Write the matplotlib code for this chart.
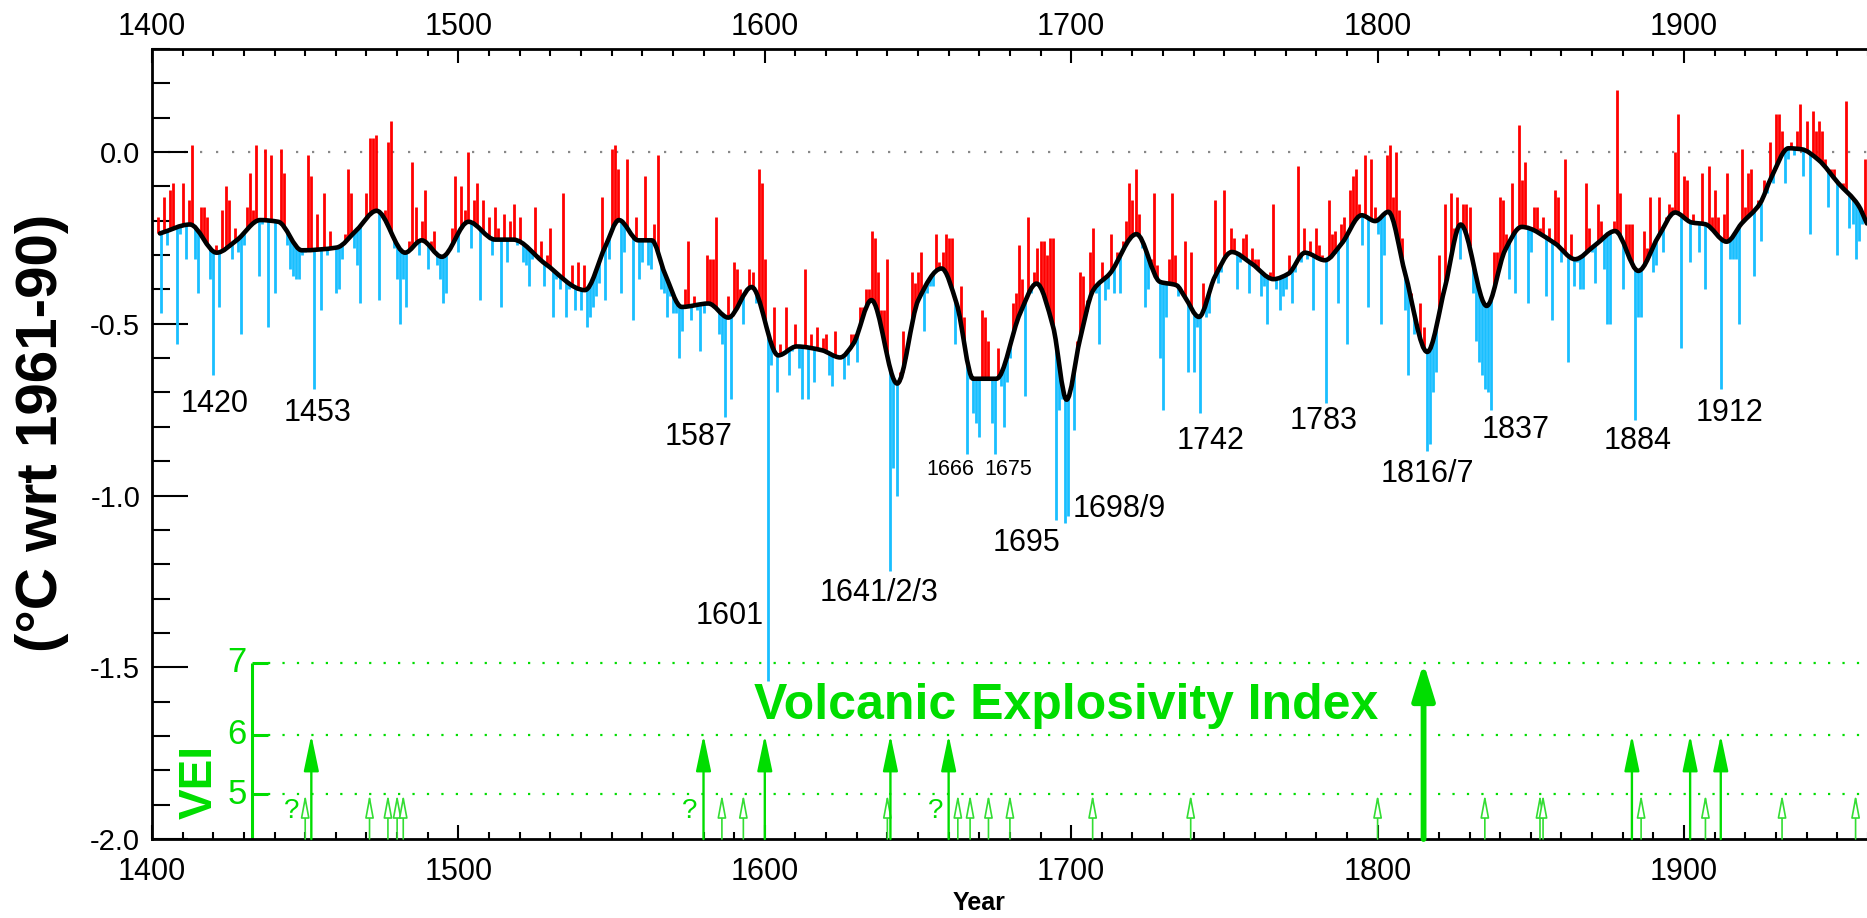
import numpy as np
import matplotlib.pyplot as plt
from matplotlib.ticker import MultipleLocator, FixedLocator
from matplotlib.path import Path
from matplotlib.patches import PathPatch

plt.rcParams['font.family'] = ['Liberation Sans', 'DejaVu Sans']

# annual anomalies (degC wrt 1961-90), one list per century, first year 1402
first_year = 1402
anom_1400s = [-0.19, -0.47, -0.13, -0.27, -0.11, -0.09, -0.56, -0.24,
              -0.09, -0.31, -0.14, 0.02, -0.31, -0.41, -0.16, -0.16, -0.19, -0.37,
              -0.65, -0.27, -0.45, -0.17, -0.10, -0.14, -0.31, -0.22, -0.29, -0.53,
              -0.27, -0.16, -0.06, -0.17, 0.02, -0.36, -0.21, 0.01, -0.51, -0.01,
              -0.41, -0.20, 0.01, -0.06, -0.27, -0.34, -0.36, -0.37, -0.37, -0.30,
              -0.29, -0.01, -0.07, -0.69, -0.18, -0.46, -0.12, -0.30, -0.23, -0.28,
              -0.41, -0.40, -0.31, -0.24, -0.05, -0.12, -0.28, -0.33, -0.44, -0.20,
              -0.12, 0.04, 0.04, 0.05, -0.43, -0.19, -0.17, 0.03, 0.09, -0.28,
              -0.37, -0.50, -0.37, -0.45, -0.26, -0.03, -0.16, -0.30, -0.20, -0.11,
              -0.34, -0.26, -0.23, -0.33, -0.37, -0.44, -0.41, -0.28, -0.22, -0.07]
anom_1500s = [-0.29, -0.10, -0.17, 0.00, -0.28, -0.14, -0.09, -0.43, -0.14, -0.24,
              -0.19, -0.30, -0.16, -0.22, -0.45, -0.18, -0.32, -0.20, -0.15, -0.27,
              -0.19, -0.32, -0.33, -0.39, -0.31, -0.16, -0.30, -0.26, -0.39, -0.30,
              -0.22, -0.48, -0.37, -0.40, -0.12, -0.48, -0.40, -0.33, -0.46, -0.32,
              -0.46, -0.33, -0.51, -0.48, -0.45, -0.42, -0.38, -0.13, -0.43, -0.31,
              0.01, 0.02, -0.05, -0.41, -0.29, -0.02, -0.24, -0.49, -0.19, -0.37,
              -0.32, -0.07, -0.33, -0.34, -0.21, -0.01, -0.40, -0.41, -0.48, -0.42,
              -0.47, -0.47, -0.60, -0.52, -0.40, -0.26, -0.49, -0.42, -0.46, -0.58,
              -0.47, -0.30, -0.31, -0.31, -0.19, -0.53, -0.56, -0.77, -0.42, -0.72,
              -0.32, -0.34, -0.40, -0.50, -0.40, -0.34, -0.35, -0.44, -0.05, -0.09]
anom_1600s = [-0.31, -1.54, -0.62, -0.45, -0.70, -0.56, -0.59, -0.45, -0.65, -0.58,
              -0.50, -0.63, -0.72, -0.34, -0.72, -0.53, -0.67, -0.51, -0.57, -0.54,
              -0.53, -0.65, -0.68, -0.52, -0.60, -0.59, -0.66, -0.62, -0.53, -0.53,
              -0.61, -0.45, -0.45, -0.40, -0.40, -0.23, -0.25, -0.35, -0.46, -0.46,
              -0.31, -1.22, -0.92, -1.00, -0.64, -0.52, -0.58, -0.55, -0.35, -0.38,
              -0.35, -0.29, -0.52, -0.41, -0.39, -0.39, -0.24, -0.32, -0.29, -0.24,
              -0.25, -0.25, -0.56, -0.47, -0.39, -0.48, -0.88, -0.66, -0.76, -0.79,
              -0.83, -0.46, -0.48, -0.55, -0.79, -0.88, -0.57, -0.68, -0.80, -0.67,
              -0.60, -0.44, -0.41, -0.27, -0.37, -0.71, -0.19, -0.41, -0.35, -0.28,
              -0.26, -0.26, -0.30, -0.25, -0.25, -1.07, -0.75, -0.72, -1.08, -1.06]
anom_1700s = [-0.69, -0.81, -0.55, -0.35, -0.36, -0.43, -0.29, -0.22, -0.41, -0.56,
              -0.32, -0.43, -0.40, -0.24, -0.41, -0.29, -0.41, -0.26, -0.20, -0.09,
              -0.14, -0.05, -0.18, -0.28, -0.45, -0.40, -0.31, -0.12, -0.33, -0.60,
              -0.75, -0.48, -0.31, -0.12, -0.30, -0.42, -0.41, -0.26, -0.64, -0.29,
              -0.64, -0.51, -0.76, -0.38, -0.48, -0.47, -0.37, -0.14, -0.38, -0.35,
              -0.11, -0.29, -0.22, -0.25, -0.40, -0.32, -0.25, -0.24, -0.41, -0.28,
              -0.31, -0.31, -0.42, -0.39, -0.50, -0.35, -0.15, -0.40, -0.46, -0.42,
              -0.40, -0.30, -0.44, -0.35, -0.04, -0.32, -0.22, -0.31, -0.26, -0.46,
              -0.22, -0.27, -0.30, -0.73, -0.14, -0.24, -0.23, -0.44, -0.21, -0.19,
              -0.56, -0.11, -0.07, -0.05, -0.15, -0.27, -0.01, -0.45, -0.02, -0.16]
anom_1800s = [-0.24, -0.50, -0.30, -0.01, 0.02, -0.13, 0.00, -0.17, -0.25, -0.46,
              -0.65, -0.41, -0.53, -0.50, -0.44, -0.51, -0.87, -0.85, -0.70, -0.64,
              -0.30, -0.41, -0.15, -0.35, -0.12, -0.22, -0.13, -0.31, -0.15, -0.15,
              -0.16, -0.41, -0.55, -0.61, -0.65, -0.69, -0.70, -0.75, -0.29, -0.29,
              -0.13, -0.14, -0.24, -0.37, -0.09, -0.41, 0.08, -0.08, -0.03, -0.44,
              -0.29, -0.16, -0.16, -0.22, -0.19, -0.42, -0.22, -0.49, -0.11, -0.13,
              -0.32, -0.02, -0.61, -0.24, -0.39, -0.32, -0.40, -0.40, -0.09, -0.22,
              -0.29, -0.38, -0.15, -0.20, -0.34, -0.50, -0.50, -0.20, 0.18, -0.12,
              -0.40, -0.21, -0.21, -0.21, -0.78, -0.48, -0.48, -0.23, -0.28, -0.13,
              -0.35, -0.33, -0.13, -0.29, -0.19, -0.15, -0.16, 0.00, 0.11, -0.57]
anom_1900s = [-0.07, -0.08, -0.32, -0.18, -0.21, -0.29, -0.06, -0.40, -0.04, -0.19,
              -0.11, -0.19, -0.69, -0.18, -0.06, -0.31, -0.31, -0.31, -0.50, 0.01,
              -0.16, -0.06, -0.05, -0.36, -0.14, -0.26, -0.08, -0.12, 0.03, -0.09,
              0.11, 0.11, 0.06, -0.09, -0.02, 0.03, -0.01, 0.06, 0.14, -0.07,
              0.09, -0.24, 0.12, 0.06, 0.09, 0.06, -0.02, -0.16, -0.05, -0.05,
              -0.30, -0.10, -0.09, 0.15, -0.22, -0.21, -0.31, -0.26, -0.21, -0.02]

# smoothed curve, read at its turning points
curve_years = [1402.6, 1412.4, 1421.1, 1427.6, 1435.3, 1441.2, 1448.9, 1460.3, 1466.8,
               1473.3, 1482.6, 1488.0, 1494.6, 1503.3, 1512.0, 1517.9, 1528.3, 1541.3,
               1547.9, 1552.4, 1558.7, 1563.1, 1567.4, 1572.9, 1581.6, 1588.1, 1595.7,
               1604.4, 1610.4, 1618.6, 1624.6, 1628.9, 1634.8, 1643.2, 1650.1, 1657.7,
               1662.6, 1668.0, 1675.6, 1683.3, 1688.7, 1694.1, 1698.5, 1702.8, 1707.2,
               1712.6, 1721.3, 1729.0, 1734.4, 1737.1, 1741.7, 1746.9, 1752.4, 1758.9,
               1766.0, 1770.9, 1776.3, 1782.8, 1788.3, 1794.8, 1799.2, 1803.5, 1809.0,
               1816.2, 1822.0, 1827.1, 1835.6, 1841.6, 1847.0, 1857.9, 1864.4, 1871.0,
               1877.5, 1885.1, 1891.6, 1897.1, 1902.5, 1906.9, 1913.9, 1918.8, 1924.8,
               1928.6, 1934.1, 1938.4, 1943.9, 1950.4, 1956.9, 1959.7]
curve_vals = [-0.237, -0.211, -0.293, -0.257, -0.198, -0.203, -0.286, -0.278, -0.227,
              -0.171, -0.293, -0.257, -0.305, -0.203, -0.255, -0.255, -0.325, -0.402,
              -0.276, -0.198, -0.257, -0.257, -0.354, -0.451, -0.441, -0.482, -0.393,
              -0.592, -0.566, -0.577, -0.598, -0.558, -0.431, -0.674, -0.431, -0.339,
              -0.441, -0.660, -0.660, -0.470, -0.383, -0.509, -0.721, -0.548, -0.402,
              -0.354, -0.239, -0.378, -0.388, -0.422, -0.480, -0.363, -0.291, -0.325,
              -0.370, -0.354, -0.293, -0.315, -0.266, -0.184, -0.201, -0.174, -0.354,
              -0.582, -0.393, -0.211, -0.448, -0.286, -0.218, -0.266, -0.312, -0.271,
              -0.230, -0.346, -0.247, -0.176, -0.205, -0.210, -0.261, -0.208, -0.150,
              -0.072, 0.011, 0.008, -0.023, -0.091, -0.155, -0.208]

# volcanic eruptions by VEI
vei7_years = [1815]
vei6_years = [1452, 1580, 1600, 1641, 1660, 1883, 1902, 1912]
vei5_years = [1450, 1471, 1477, 1480, 1482, 1586, 1593, 1640, 1663, 1667, 1673,
              1680, 1707, 1739, 1800, 1835, 1853, 1854, 1886, 1907, 1932, 1956]
uncertain_years = [1450, 1580, 1660]

event_labels = ['1420', '1453', '1587', '1601', '1641/2/3', '1666', '1675', '1695',
                '1698/9', '1742', '1783', '1816/7', '1837', '1884', '1912']

# ---- layout
label_pos = [(1420.6, -0.735), (1453.9, -0.759), (1578.5, -0.829), (1588.6, -1.352),
             (1637.2, -1.283), (1660.5, -0.923), (1679.4, -0.923), (1685.3, -1.137),
             (1715.6, -1.040), (1745.6, -0.840), (1782.5, -0.784), (1816.1, -0.936),
             (1845.2, -0.808), (1885.0, -0.840), (1915.0, -0.761)]
small_labels = {'1666', '1675'}
vei_y = {5: -1.869, 6: -1.697, 7: -1.487}   # where the VEI scale sits on the y axis
vei_x = 1432.6
green = '#00dd00'
red = '#ff0000'
blue = '#19bfff'


def hermite_slopes(x, y):
    # monotone (PCHIP-style) tangents so the smooth curve keeps its read extremes
    h = np.diff(x)
    d = np.diff(y) / h
    m = np.zeros_like(y)
    m[0], m[-1] = d[0], d[-1]
    for k in range(1, len(y) - 1):
        if d[k - 1] * d[k] > 0:
            w1 = 2 * h[k] + h[k - 1]
            w2 = h[k] + 2 * h[k - 1]
            m[k] = (w1 + w2) / (w1 / d[k - 1] + w2 / d[k])
    return m


cx = np.array(curve_years)
cy = np.array(curve_vals)
cm = hermite_slopes(cx, cy)

# the curve as cubic Bezier segments through the read points
verts = [(cx[0], cy[0])]
codes = [Path.MOVETO]
for k in range(len(cx) - 1):
    h = cx[k + 1] - cx[k]
    verts += [(cx[k] + h / 3, cy[k] + cm[k] * h / 3),
              (cx[k + 1] - h / 3, cy[k + 1] - cm[k + 1] * h / 3),
              (cx[k + 1], cy[k + 1])]
    codes += [Path.CURVE4] * 3

anom = np.array(anom_1400s + anom_1500s + anom_1600s + anom_1700s + anom_1800s + anom_1900s)
years = np.arange(first_year, first_year + len(anom))

# bar bases sit on the curve
yc = np.clip(years, cx[0], cx[-1])
seg = np.clip(np.searchsorted(cx, yc) - 1, 0, len(cx) - 2)
hh = cx[seg + 1] - cx[seg]
t = (yc - cx[seg]) / hh
base = ((2 * t**3 - 3 * t**2 + 1) * cy[seg] + (t**3 - 2 * t**2 + t) * hh * cm[seg]
        + (-2 * t**3 + 3 * t**2) * cy[seg + 1] + (t**3 - t**2) * hh * cm[seg + 1])
cols = np.where(anom >= base, red, blue)

fig = plt.figure(figsize=(18.67, 9.18), dpi=100)
ax = fig.add_axes([152 / 1867, 79 / 918, 1838.4 / 1867, 790 / 918])
ax.set_xlim(1400, 2000)
ax.set_ylim(-2.0, 0.3)

ax.axhline(0, color='#888888', ls=(0, (1, 6.2)), lw=1.6, zorder=1)
ax.vlines(years, base, anom, colors=cols, lw=2.0, zorder=2)
ax.add_patch(PathPatch(Path(verts, codes), fill=False, ec='black', lw=3.3,
                       joinstyle='round', capstyle='round', zorder=3))

for txt, (x, y) in zip(event_labels, label_pos):
    ax.text(x, y, txt, ha='center', va='center',
            fontsize=15.5 if txt in small_labels else 22, zorder=4)

# VEI scale
for lev, y in vei_y.items():
    ax.plot([vei_x + 5.3, 2000], [y, y], color=green, ls=(0, (1, 5.5)), lw=1.6, zorder=1)
    ax.plot([vei_x, vei_x + 5.2], [y, y], color=green, lw=2.2, solid_capstyle='butt')
    ax.text(vei_x - 1.6, y, str(lev), color=green, fontsize=25, ha='right', va='center')
ax.plot([vei_x, vei_x], [-2.0, vei_y[7]], color=green, lw=2.2, solid_capstyle='butt')
ax.text(1415.5, -1.834, 'VEI', color=green, fontsize=33, weight='bold', rotation=90,
        ha='center', va='center')
ax.text(1698.3, -1.612, 'Volcanic Explosivity Index', color=green, fontsize=36,
        weight='bold', ha='center', va='center')

styles = {5: dict(lw=1.2, hl=14, hw=2.6, fc='white', ec='#33dd33'),
          6: dict(lw=1.7, hl=22, hw=4.6, fc=green, ec=green),
          7: dict(lw=4.2, hl=22, hw=6.8, fc=green, ec=green)}
for lev, yrs in [(5, vei5_years), (6, vei6_years), (7, vei7_years)]:
    s = styles[lev]
    for yr in yrs:
        ax.annotate('', xy=(yr, vei_y[lev]), xytext=(yr, -2.0),
                    arrowprops=dict(arrowstyle=f"-|>,head_length={s['hl']},head_width={s['hw']}",
                                    mutation_scale=1, lw=s['lw'], fc=s['fc'], ec=s['ec'],
                                    shrinkA=0, shrinkB=0), zorder=5)
for yr in uncertain_years:
    ax.text(yr - 4.4, -1.918, '?', color=green, fontsize=20, ha='center', va='center')

# axes styling
for side in ['left', 'bottom', 'top', 'right']:
    ax.spines[side].set_linewidth(2)
major_years = list(range(1400, 2000, 100))
ax.xaxis.set_major_locator(FixedLocator(major_years))
ax.xaxis.set_minor_locator(MultipleLocator(10))
ax.yaxis.set_major_locator(MultipleLocator(0.5))
ax.yaxis.set_minor_locator(MultipleLocator(0.1))
ax.yaxis.set_major_formatter(lambda v, p: f'{v:.1f}')
ax.tick_params(axis='x', which='both', direction='in', top=True, bottom=True,
               labeltop=False, width=1.5)
ax.tick_params(axis='x', which='major', length=10, labelsize=22, pad=13)
ax.tick_params(axis='x', which='minor', length=5)
ax.tick_params(axis='y', which='both', direction='in', left=True, right=False, width=1.5)
ax.tick_params(axis='y', which='major', length=26, labelsize=21, pad=8.5)
ax.tick_params(axis='y', which='minor', length=13)

top = ax.secondary_xaxis('top')
top.xaxis.set_major_locator(FixedLocator(major_years))
top.tick_params(axis='x', which='both', length=0, labelsize=22, pad=5)
top.spines['top'].set_visible(False)

fig.text(42 / 1867, 1 - 433 / 918, '(°C wrt 1961-90)', rotation=90, ha='center',
         va='center', fontsize=42, weight='bold')
fig.text(979 / 1867, 1 - 903 / 918, 'Year', ha='center', va='center', fontsize=18,
         weight='bold')

fig.savefig('out.png', dpi=100)
